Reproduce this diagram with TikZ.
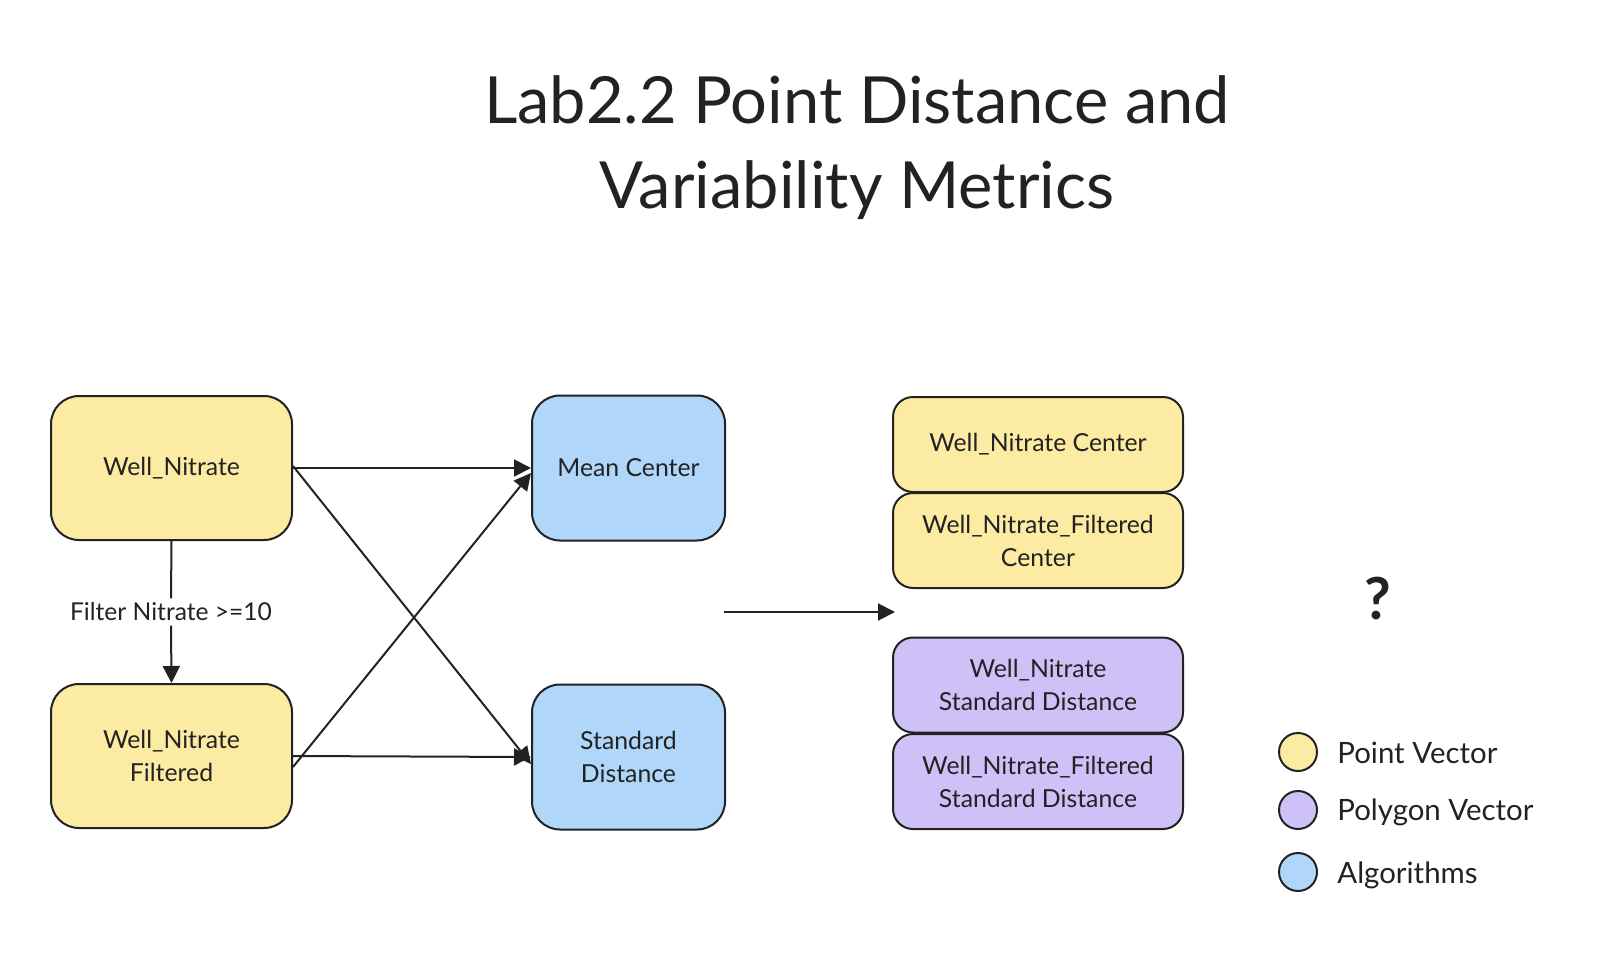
\documentclass[tikz,border=0pt]{standalone}
\usepackage{fontspec}
\setmainfont{Lato}
\usetikzlibrary{arrows.meta,calc}
\definecolor{ptfill}{HTML}{FCEBA2}
\definecolor{pgfill}{HTML}{CEC1F7}
\definecolor{alfill}{HTML}{B0D7F9}
\definecolor{linec}{HTML}{222222}
\definecolor{textc}{HTML}{222222}
\tikzset{
  box/.style={draw=linec, line width=1pt, align=center, inner sep=0pt, text=textc,
    font=\fontsize{12.4}{16.5}\selectfont},
  bigbox/.style={box, rounded corners=14pt, minimum width=120.5pt, minimum height=72pt},
  algbox/.style={box, rounded corners=14pt, minimum width=96.5pt, minimum height=72.5pt, fill=alfill},
  outbox/.style={box, rounded corners=10pt, minimum width=145pt, minimum height=47.5pt},
  ptc/.style={fill=ptfill},
  pgc/.style={fill=pgfill},
  arr/.style={draw=linec, line width=1pt, -{Triangle[length=8.5pt,width=8.5pt]}},
  legdot/.style={circle, draw=linec, line width=1pt, minimum size=19pt, inner sep=0pt},
  legtxt/.style={anchor=west, inner sep=0pt, text=textc, font=\fontsize{14.7}{16}\selectfont},
}
\begin{document}
\begin{tikzpicture}[x=0.5pt,y=-0.5pt]
\useasboundingbox (0,0) rectangle (1608,975);
% title
\node[text=textc, align=center, font=\fontsize{32.5}{42.5}\selectfont] (title) at (857,148)
  {Lab2.2 Point Distance and\\Variability Metrics};
% left nodes
\node[bigbox, ptc] (wn) at (171.5,468) {Well\_Nitrate};
\node[bigbox, ptc] (wnf) at (171.5,756) {Well\_Nitrate\\Filtered};
\node[algbox] (mc) at (628.5,468) {Mean Center};
\node[algbox] (sd) at (628.5,757) {Standard\\Distance};
% outputs
\node[outbox, ptc] (r1) at (1038,444.5) {Well\_Nitrate Center};
\node[outbox, ptc] (r2) at (1038,540.5) {Well\_Nitrate\_Filtered\\Center};
\node[outbox, pgc] (r3) at (1038,685) {Well\_Nitrate\\Standard Distance};
\node[outbox, pgc] (r4) at (1038,781.5) {Well\_Nitrate\_Filtered\\Standard Distance};
% question mark
\node[text=textc, font=\bfseries\fontsize{29}{32}\selectfont] (q) at (1378,598) {?};
% edges
\node[fill=white, inner sep=2pt, text=textc, font=\fontsize{12.3}{14}\selectfont] (flabel) at (171,612) {Filter Nitrate >=10};
\draw[draw=linec, line width=1pt] (wn.south) -- (flabel.north);
\draw[arr] (flabel.south) -- (wnf.north);
\draw[arr] (wn.east) -- (mc.west);
\draw[arr] ($(wn.east)+(0,-2)$) -- ($(sd.west)+(0,7)$);
\draw[arr] ($(wnf.east)+(0,11)$) -- ($(mc.west)+(0,5)$);
\draw[arr] (wnf.east) -- (sd.west);
\coordinate (g1) at (724,612);
\coordinate (g2) at (895,612);
\draw[arr] (g1) -- (g2);
% legend
\node[legdot, fill=ptfill] (l1) at (1298,752) {};
\node[legdot, fill=pgfill] (l2) at (1298,810) {};
\node[legdot, fill=alfill] (l3) at (1298,872) {};
\node[legtxt] (t1) at (1337,753) {Point Vector};
\node[legtxt] (t2) at (1337,812) {Polygon Vector};
\node[legtxt] (t3) at (1337,875) {Algorithms};
\end{tikzpicture}
\end{document}
